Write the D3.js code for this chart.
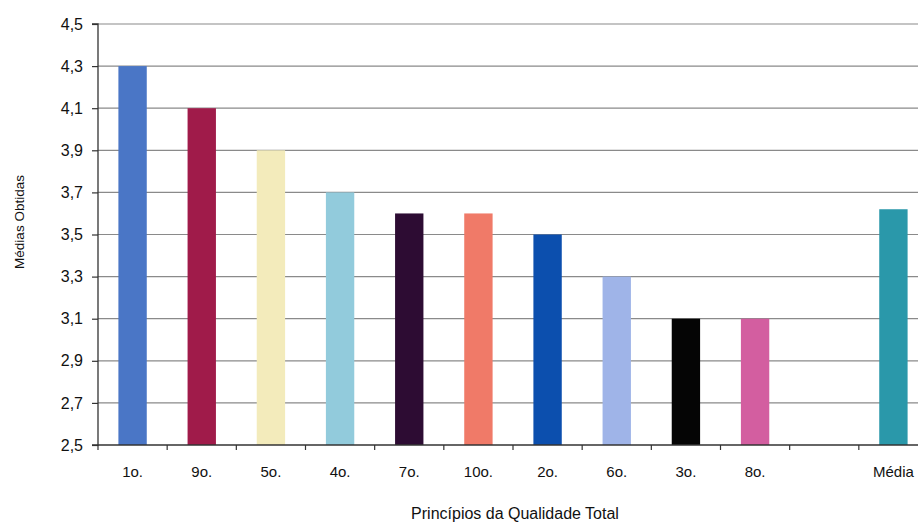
<!DOCTYPE html>
<html>
<head>
<meta charset="utf-8">
<script src="https://cdn.jsdelivr.net/npm/d3@7"></script>
<style>
  html, body { margin: 0; padding: 0; background: #fff; overflow: hidden; }
  svg { display: block; font-family: "Liberation Sans", Arial, sans-serif; }
</style>
</head>
<body>
<svg id="chart" width="918" height="523"></svg>
<script>
// Principles ordered by average score, plus an empty slot and the overall mean
const categories = ["1o.", "9o.", "5o.", "4o.", "7o.", "10o.", "2o.", "6o.", "3o.", "8o.", "", "Média"];
const values     = [4.3, 4.1, 3.9, 3.7, 3.6, 3.6, 3.5, 3.3, 3.1, 3.1, null, 3.62];
const colors     = ["#4a76c6", "#a01b4a", "#f3ebbb", "#92cbdc", "#2d0c33", "#f07a68",
                    "#0c4fae", "#9fb4e8", "#050505", "#d35ea0", "#ffffff", "#2a98aa"];
const yTicks     = [2.5, 2.7, 2.9, 3.1, 3.3, 3.5, 3.7, 3.9, 4.1, 4.3, 4.5];
const yTitle = "Médias Obtidas";
const xTitle = "Princípios da Qualidade Total";

const svg = d3.select("#chart");
const plot = { left: 98, top: 24, bottom: 445, right: 928 };

const x = d3.scaleBand().domain(d3.range(categories.length)).range([plot.left, plot.right]).paddingInner(0).paddingOuter(0);
const y = d3.scaleLinear().domain([2.5, 4.5]).range([plot.bottom, plot.top]);
const fmt = d => d.toFixed(1).replace(".", ",");

// horizontal gridlines
svg.append("g")
  .selectAll("line")
  .data(yTicks.slice(1))
  .join("line")
  .attr("x1", plot.left).attr("x2", plot.right)
  .attr("y1", d => y(d)).attr("y2", d => y(d))
  .attr("stroke", "#8a8a8a").attr("stroke-width", 1.2);

// bars
const barW = x.bandwidth() * 0.41;
svg.append("g")
  .selectAll("rect")
  .data(values.map((v, i) => ({ v, i })).filter(d => d.v !== null))
  .join("rect")
  .attr("x", d => x(d.i) + (x.bandwidth() - barW) / 2)
  .attr("width", barW)
  .attr("y", d => y(d.v))
  .attr("height", d => y(2.5) - y(d.v))
  .attr("fill", d => colors[d.i]);

// y axis
const yAxis = d3.axisLeft(y).tickValues(yTicks).tickFormat(fmt).tickSize(6).tickPadding(9);
const gy = svg.append("g").attr("transform", `translate(${plot.left},0)`).call(yAxis);
gy.select(".domain").attr("stroke", "#333").attr("stroke-width", 1.3).attr("d", `M-6,${plot.top}H0V${plot.bottom}H-6`);
gy.selectAll(".tick line").attr("stroke", "#333").attr("stroke-width", 1.2);
gy.selectAll("text").attr("font-size", 16).attr("fill", "#111").attr("font-family", "'Liberation Sans', Arial, sans-serif");

// x axis: ticks between categories
const gx = svg.append("g").attr("transform", `translate(0,${plot.bottom})`);
gx.append("line").attr("x1", plot.left).attr("x2", plot.right).attr("stroke", "#333").attr("stroke-width", 1.3);
gx.selectAll("line.tk")
  .data(d3.range(categories.length + 1))
  .join("line").attr("class", "tk")
  .attr("x1", i => plot.left + i * x.step()).attr("x2", i => plot.left + i * x.step())
  .attr("y1", 0).attr("y2", 5)
  .attr("stroke", "#333").attr("stroke-width", 1.2);
gx.selectAll("text")
  .data(categories)
  .join("text")
  .attr("x", (d, i) => x(i) + x.bandwidth() / 2)
  .attr("y", 32)
  .attr("text-anchor", "middle")
  .attr("font-size", 15)
  .attr("fill", "#111")
  .text(d => d);

// axis titles
svg.append("text")
  .attr("x", 515).attr("y", 519)
  .attr("text-anchor", "middle")
  .attr("font-size", 16).attr("fill", "#111")
  .text(xTitle);

svg.append("text")
  .attr("transform", "translate(24,222) rotate(-90)")
  .attr("text-anchor", "middle")
  .attr("font-size", 13.5).attr("fill", "#111")
  .text(yTitle);
</script>
</body>
</html>
